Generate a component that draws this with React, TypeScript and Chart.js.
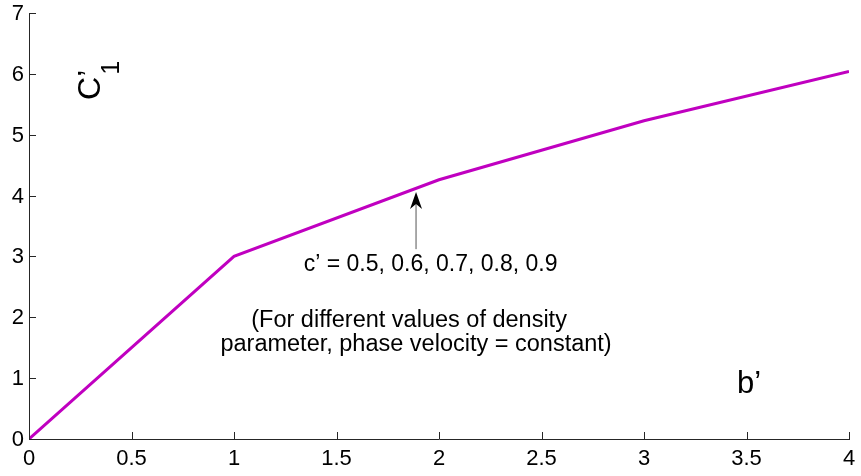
import React, { useEffect, useRef } from "react";
import { Chart, registerables } from "chart.js";

Chart.register(...registerables);

const xValues = [0, 1, 2, 3, 4];
const yValues = [0, 3, 4.26, 5.23, 6.04];
const xTicks = [0, 0.5, 1, 1.5, 2, 2.5, 3, 3.5, 4];
const yTicks = [0, 1, 2, 3, 4, 5, 6, 7];
const noteLabel = "c’ = 0.5, 0.6, 0.7, 0.8, 0.9";
const noteLines = ["(For different values of density", "parameter, phase velocity = constant)"];
const xTitle = "b’";
const yTitle = "C’";
const yTitleSub = "1";

const FONT = "'Liberation Sans', Arial, Helvetica, sans-serif";

const decorPlugin = {
  id: "decor",
  afterDraw(chart: any) {
    const ctx = chart.ctx;
    const xs = chart.scales.x;
    const ys = chart.scales.y;
    const area = chart.chartArea;
    ctx.save();
    // inward ticks
    ctx.strokeStyle = "#262626";
    ctx.lineWidth = 1;
    ctx.beginPath();
    xTicks.forEach((v) => {
      const px = Math.round(xs.getPixelForValue(v)) + 0.5;
      ctx.moveTo(px, area.bottom);
      ctx.lineTo(px, area.bottom - 7);
    });
    yTicks.forEach((v) => {
      const py = Math.round(ys.getPixelForValue(v)) + 0.5;
      ctx.moveTo(area.left, py);
      ctx.lineTo(area.left + 7, py);
    });
    ctx.stroke();

    // tick labels
    ctx.fillStyle = "#000";
    ctx.font = `22px ${FONT}`;
    ctx.textAlign = "center";
    ctx.textBaseline = "top";
    xTicks.forEach((v) => {
      ctx.fillText(String(v), xs.getPixelForValue(v), area.bottom + 9);
    });
    ctx.textAlign = "right";
    ctx.textBaseline = "middle";
    yTicks.forEach((v) => {
      ctx.fillText(String(v), area.left - 5, ys.getPixelForValue(v) + 1);
    });

    // arrow
    const ax = xs.getPixelForValue(1.888);
    const ay0 = ys.getPixelForValue(3.12);
    const ay1 = ys.getPixelForValue(4.058);
    ctx.strokeStyle = "#555";
    ctx.lineWidth = 1;
    ctx.beginPath();
    ctx.moveTo(ax, ay0);
    ctx.lineTo(ax, ay1 + 6);
    ctx.stroke();
    ctx.fillStyle = "#000";
    ctx.beginPath();
    ctx.moveTo(ax, ay1);
    ctx.lineTo(ax - 6, ay1 + 17);
    ctx.lineTo(ax, ay1 + 12);
    ctx.lineTo(ax + 6, ay1 + 17);
    ctx.closePath();
    ctx.fill();

    ctx.fillStyle = "#000";
    ctx.font = `23px ${FONT}`;
    ctx.textAlign = "center";
    ctx.textBaseline = "middle";
    ctx.fillText(noteLabel, xs.getPixelForValue(1.959), ys.getPixelForValue(2.859));
    ctx.font = `23.5px ${FONT}`;
    ctx.fillText(noteLines[0], xs.getPixelForValue(1.854), ys.getPixelForValue(1.94));
    ctx.fillText(noteLines[1], xs.getPixelForValue(1.888), ys.getPixelForValue(1.545));

    ctx.font = `31px ${FONT}`;
    ctx.textBaseline = "alphabetic";
    ctx.fillText(xTitle, xs.getPixelForValue(3.512), ys.getPixelForValue(0.756));

    // y title rotated
    ctx.save();
    ctx.translate(xs.getPixelForValue(0.302), ys.getPixelForValue(5.82));
    ctx.rotate(-Math.PI / 2);
    ctx.textAlign = "center";
    ctx.textBaseline = "middle";
    ctx.font = `32px ${FONT}`;
    ctx.fillText(yTitle, 0, 0);
    ctx.font = `25px ${FONT}`;
    ctx.fillText(yTitleSub, 17, 21);
    ctx.restore();

    ctx.restore();
  },
};

export default function App() {
  const ref = useRef<HTMLCanvasElement | null>(null);
  useEffect(() => {
    document.body.style.margin = "0";
    const chart = new Chart(ref.current as HTMLCanvasElement, {
      type: "scatter",
      data: {
        datasets: [
          {
            data: xValues.map((x, i) => ({ x, y: yValues[i] })),
            showLine: true,
            borderColor: "#C000C0",
            backgroundColor: "#C000C0",
            borderWidth: 3,
            pointRadius: 0,
            tension: 0,
          },
        ],
      },
      options: {
        animation: false,
        responsive: false,
        maintainAspectRatio: false,
        layout: { padding: { top: 13, right: 12, left: 29, bottom: 37 } },
        plugins: { legend: { display: false }, tooltip: { enabled: false } },
        scales: {
          x: {
            type: "linear",
            min: 0,
            max: 4,
            afterFit: (s: any) => {
              s.height = 0;
            },
            grid: { display: false, drawTicks: false },
            border: { display: true, color: "#262626", width: 1 },
            ticks: { display: false },
          },
          y: {
            type: "linear",
            min: 0,
            max: 7,
            afterFit: (s: any) => {
              s.width = 0;
            },
            grid: { display: false, drawTicks: false },
            border: { display: true, color: "#262626", width: 1 },
            ticks: { display: false },
          },
        },
      },
      plugins: [decorPlugin],
    } as any);
    return () => chart.destroy();
  }, []);
  return <canvas ref={ref} width={861} height={476} style={{ display: "block" }} />;
}
